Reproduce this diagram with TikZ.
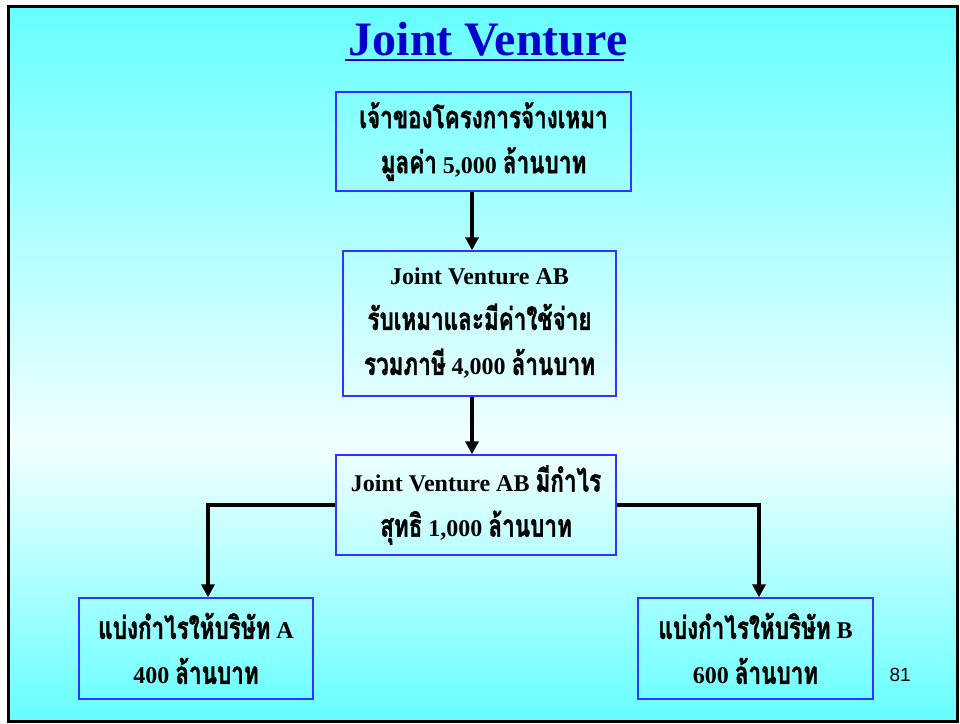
\documentclass[tikz,border=0pt]{standalone}
\usepackage{fontspec}
\setmainfont{Liberation Serif}
\setsansfont{Liberation Sans}
\newfontfamily\thai[Script=Thai, Scale=1.3, FakeStretch=0.72, BoldFeatures={FakeBold=1.2}]{Loma}
\newcommand\T[1]{{\thai #1}}
\usetikzlibrary{arrows.meta}
\definecolor{bgcyan}{RGB}{102,255,255}
\definecolor{bgpale}{RGB}{242,255,255}
\definecolor{titleblue}{RGB}{0,0,204}
\definecolor{boxblue}{RGB}{51,51,255}
\tikzset{
  infobox/.style={draw=boxblue, line width=1.4pt, inner sep=0pt, align=center,
    font=\fontsize{24}{45}\selectfont\bfseries},
  conn/.style={line width=4pt, -{Triangle[width=13pt,length=13pt]}},
}
\begin{document}
\begin{tikzpicture}[x=1pt,y=-1pt]
\useasboundingbox (0,0) rectangle (960,723);
% slide background: cyan fading to pale in the middle and back
\fill[white] (0,0) rectangle (960,723);
\shade[top color=bgcyan, bottom color=bgpale] (8,6) rectangle (957,445);
\shade[top color=bgpale, bottom color=bgcyan] (8,445) rectangle (957,721);
\draw[line width=3pt] (8,6) rectangle (957,721);

% title
\node[font=\fontsize{48}{48}\selectfont\bfseries, text=titleblue, anchor=base] (title) at (488,55) {Joint Venture};
\draw[titleblue, line width=2.2pt] (title.base west) ++(0,5) -- ++(279,0);

% boxes
\node[infobox, minimum width=295pt, minimum height=99pt] (owner) at (483.5,141.5)
  {\T{เจ้าของโครงการจ้างเหมา}\\\T{มูลค่า} 5,000 \T{ล้านบาท}};
\node[infobox, minimum width=273pt, minimum height=145pt] (jv) at (479.5,323.5)
  {Joint Venture AB\\\T{รับเหมาและมีค่าใช้จ่าย}\\\T{รวมภาษี} 4,000 \T{ล้านบาท}};
\node[infobox, minimum width=280pt, minimum height=100pt] (profit) at (476,505)
  {Joint Venture AB \T{มีกำไร}\\\T{สุทธิ} 1,000 \T{ล้านบาท}};
\node[infobox, minimum width=234pt, minimum height=101pt] (shareA) at (196,648.5)
  {\T{แบ่งกำไรให้บริษัท} A\\400 \T{ล้านบาท}};
\node[infobox, minimum width=235pt, minimum height=101pt] (shareB) at (755.5,648.5)
  {\T{แบ่งกำไรให้บริษัท} B\\600 \T{ล้านบาท}};

% page number
\node[font=\sffamily\fontsize{19}{19}\selectfont, anchor=base west] (pageno) at (886,681) {81};

% connectors
\coordinate (midx) at (472,0);
\coordinate (leftx) at (208,0);
\coordinate (rightx) at (759,0);
\draw[conn] (owner.south -| midx) -- (jv.north -| midx);
\draw[conn] (jv.south -| midx) -- (profit.north -| midx);
\draw[conn] (profit.west) -| (shareA.north -| leftx);
\draw[conn] (profit.east) -| (shareB.north -| rightx);
\end{tikzpicture}
\end{document}
